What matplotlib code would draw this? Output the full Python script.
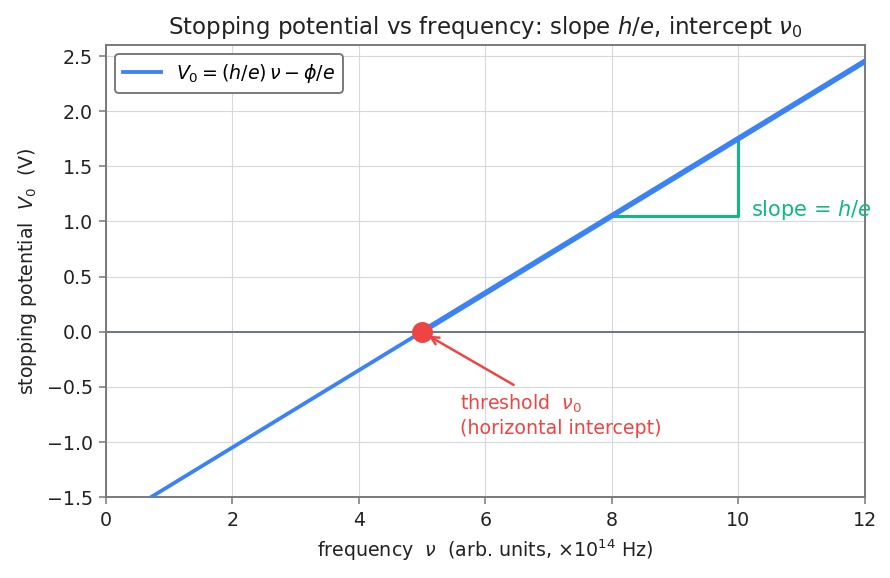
import numpy as np
import matplotlib
matplotlib.use("Agg")
import matplotlib.pyplot as plt

# data (nu in units of 1e14 Hz)
nu0 = 5.0
slope = 0.35
nu_range = [0.0, 12.0]
tri_x = [8.0, 10.0]

blue = "#3b82f6"
red = "#ef4444"
green = "#10b981"
gray = "#777777"

plt.rcParams["font.family"] = "DejaVu Sans"
plt.rcParams["font.size"] = 10

fig, ax = plt.subplots(figsize=(6.5, 4.22), dpi=137)

nu = np.linspace(nu_range[0], nu_range[1], 200)
V = slope * (nu - nu0)
ax.plot(nu, V, color=blue, lw=2.0, label=r"$V_0 = (h/e)\,\nu - \phi/e$", zorder=3)
nu_hi = nu[nu >= nu0]
ax.plot(nu_hi, slope * (nu_hi - nu0), color=blue, lw=2.9, zorder=3)

ax.axhline(0, color="#6b7280", lw=1.0, zorder=2)

# slope triangle
y1 = slope * (tri_x[0] - nu0)
y2 = slope * (tri_x[1] - nu0)
ax.plot([tri_x[0], tri_x[1], tri_x[1]], [y1, y1, y2], color=green, lw=1.6, zorder=2)
ax.text(tri_x[1] + 0.2, y1 + 0.05, r"slope = $h/e$", color=green, fontsize=11, va="center")

# threshold
ax.plot(nu0, 0, "o", color=red, ms=10, zorder=4)
ax.annotate("", xy=(nu0 + 0.05, -0.02), xytext=(6.5, -0.5),
            arrowprops=dict(arrowstyle="->", color=red, lw=1.3), zorder=4)
ax.text(5.6, -0.55, "threshold  $\\nu_0$\n(horizontal intercept)", color=red,
        fontsize=10, va="top", ha="left", linespacing=1.3)

ax.set_xlim(0, 12)
ax.set_ylim(-1.5, 2.6)
ax.set_xticks([0, 2, 4, 6, 8, 10, 12])
ax.set_yticks(np.arange(-1.5, 2.51, 0.5))
ax.grid(True, color="#d5d8dc", lw=0.6)
ax.set_axisbelow(True)
for s in ax.spines.values():
    s.set_color(gray)
    s.set_linewidth(1.0)
ax.tick_params(colors=gray, labelcolor="#222222", labelsize=10, length=3.5)

ax.set_xlabel(r"frequency  $\nu$  (arb. units, $\times10^{14}$ Hz)", fontsize=10, color="#222222")
ax.set_ylabel(r"stopping potential  $V_0$  (V)", fontsize=10, color="#222222")
ax.set_title(r"Stopping potential vs frequency: slope $h/e$, intercept $\nu_0$", fontsize=12, color="#222222")

leg = ax.legend(loc="upper left", fontsize=10, framealpha=1, edgecolor=gray, handlelength=2.0)
leg.get_frame().set_linewidth(1.0)

plt.subplots_adjust(left=0.119, right=0.971, top=0.922, bottom=0.14)
fig.savefig("out.png", dpi=137)
